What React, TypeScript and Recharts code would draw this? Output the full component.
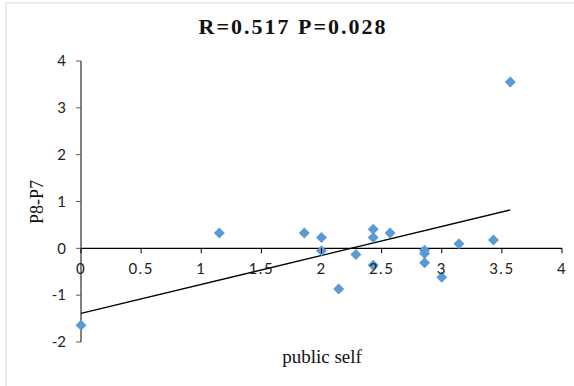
import React from 'react';
import {
    ScatterChart,
    Scatter,
    XAxis,
    YAxis,
    ReferenceLine,
} from 'recharts';

// public self (x) vs P8-P7 (y)
const publicSelf = [0, 1.15, 1.857, 2.0, 2.0, 2.143, 2.286, 2.43, 2.43, 2.43, 2.57, 2.857, 2.857, 2.857, 3.0, 3.143, 3.43, 3.57];
const p8MinusP7 = [-1.64, 0.33, 0.33, 0.23, -0.05, -0.87, -0.13, 0.41, 0.23, -0.36, 0.33, -0.04, -0.11, -0.31, -0.62, 0.1, 0.18, 3.55];

// linear trendline end points as drawn
const trendX = [0, 3.57];
const trendY = [-1.39, 0.82];

const xTicks = [0, 0.5, 1, 1.5, 2, 2.5, 3, 3.5, 4];
const yTicks = [-2, -1, 0, 1, 2, 3, 4];

const W = 574;
const H = 386;
const MARGIN = { top: 61, right: 12, bottom: 14, left: 41 };
const Y_AXIS_W = 40;
const X_AXIS_H = 30;
const PLOT_H = H - MARGIN.top - MARGIN.bottom - X_AXIS_H;
const Y_MIN = -2;
const Y_MAX = 4;

const points = publicSelf.map((x, i) => ({ x, y: p8MinusP7[i] }));
const trend = trendX.map((x, i) => ({ x, y: trendY[i] }));

const TICK_FONT = 'Lato, "Open Sans", sans-serif';

const Diamond = (props: any) => {
    const { cx, cy } = props;
    if (cx == null || cy == null) return <g />;
    const r = 5.5;
    return (
        <polygon
            points={`${cx},${cy - r} ${cx + r},${cy} ${cx},${cy + r} ${cx - r},${cy}`}
            fill="#5b9bd5"
        />
    );
};

const NoDot = () => <g />;

// x ticks sit on the y=0 line, not at the plot bottom
const XTick = (props: any) => {
    const { x, payload } = props;
    const zeroY = MARGIN.top + (PLOT_H * (Y_MAX - 0)) / (Y_MAX - Y_MIN);
    return (
        <g>
            <line x1={x} x2={x} y1={zeroY} y2={zeroY + 5} stroke="#000" strokeWidth={1} />
            <text
                x={x}
                y={zeroY + 26}
                textAnchor="middle"
                fontSize={15}
                fontFamily={TICK_FONT}
                letterSpacing={1.5}
                fill="#222"
            >
                {payload.value}
            </text>
        </g>
    );
};

const App: React.FC = () => {
    return (
        <div
            style={{
                position: 'absolute',
                left: 0,
                top: 0,
                width: W,
                height: H,
                background: '#fff',
            }}
        >
            <div
                style={{
                    position: 'absolute',
                    left: 5,
                    top: 2,
                    right: 0,
                    bottom: 0,
                    borderTop: '2px solid #ececec',
                    borderLeft: '2px solid #ececec',
                }}
            />
            <div
                style={{
                    position: 'absolute',
                    left: 0,
                    width: 586,
                    top: 14,
                    textAlign: 'center',
                    fontFamily: '"Liberation Serif", "Times New Roman", serif',
                    fontWeight: 'bold',
                    fontSize: 22,
                    letterSpacing: 2,
                    color: '#111',
                }}
            >
                R=0.517 P=0.028
            </div>
            <div
                style={{
                    position: 'absolute',
                    left: 37,
                    top: 202,
                    transform: 'translate(-50%, -50%) rotate(-90deg)',
                    fontFamily: '"Liberation Serif", "Times New Roman", serif',
                    fontSize: 18,
                    color: '#111',
                    whiteSpace: 'nowrap',
                }}
            >
                P8-P7
            </div>
            <div
                style={{
                    position: 'absolute',
                    left: 322,
                    top: 346,
                    transform: 'translateX(-50%)',
                    fontFamily: '"Liberation Serif", "Times New Roman", serif',
                    fontSize: 19,
                    color: '#111',
                    whiteSpace: 'nowrap',
                }}
            >
                public self
            </div>
            <div style={{ position: 'absolute', left: 0, top: 0 }}>
                <ScatterChart width={W} height={H} margin={MARGIN}>
                    <XAxis
                        type="number"
                        dataKey="x"
                        domain={[0, 4]}
                        ticks={xTicks}
                        axisLine={false}
                        tickLine={false}
                        tick={<XTick />}
                        height={X_AXIS_H}
                        interval={0}
                    />
                    <YAxis
                        type="number"
                        dataKey="y"
                        domain={[Y_MIN, Y_MAX]}
                        ticks={yTicks}
                        width={Y_AXIS_W}
                        interval={0}
                        axisLine={{ stroke: '#595959', strokeWidth: 1.5 }}
                        tickLine={{ stroke: '#595959' }}
                        tickSize={5}
                        tickMargin={10}
                        tick={{ fontSize: 15, fontFamily: TICK_FONT, fill: '#222' }}
                    />
                    <ReferenceLine y={0} stroke="#000" strokeWidth={1.2} />
                    <Scatter
                        data={trend}
                        line={{ stroke: '#000', strokeWidth: 1.3 }}
                        shape={NoDot}
                        isAnimationActive={false}
                    />
                    <Scatter data={points} shape={Diamond} isAnimationActive={false} />
                </ScatterChart>
            </div>
        </div>
    );
};

export default App;
